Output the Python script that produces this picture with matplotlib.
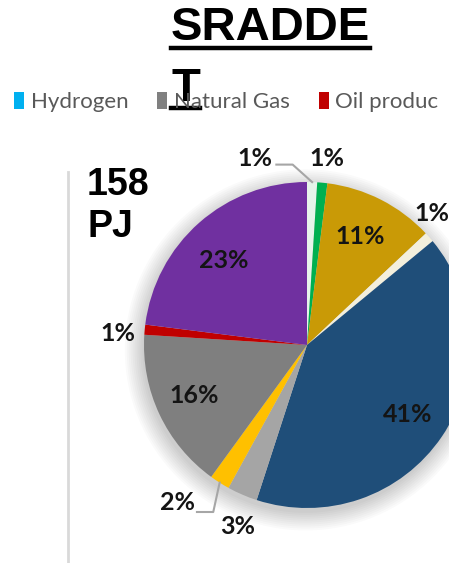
import numpy as np
import matplotlib.pyplot as plt
from matplotlib.patches import Patch, Circle

# pie slices, clockwise from 12 o'clock
shares = [1, 1, 11, 1, 41, 3, 2, 16, 1, 23]
labels = ['1%', '1%', '11%', '1%', '41%', '3%', '2%', '16%', '1%', '23%']
colors = ['#e6f4ea', '#00b050', '#c99a06', '#f3efdc', '#1f4e79',
          '#a5a5a5', '#ffc000', '#7f7f7f', '#c00000', '#7030a0']

legend_names = ['Hydrogen', 'Natural Gas', 'Oil produc']
legend_colors = ['#00b0f0', '#808080', '#c00000']

title_lines = ['SRADDE', 'T']
total_text = '158\nPJ'

# label placement (radius, angle in degrees) for each slice
label_pos = [(1.19, 105.5), (1.15, 84.0), (0.74, 64.0), (1.11, 46.5), (0.75, -34.5),
             (1.19, 249.0), (1.25, 230.5), (0.76, 204.0), (1.16, 176.5), (0.73, 134.5)]

W, H = 449, 563
fig = plt.figure(figsize=(W / 100, H / 100), dpi=100)

def fx(x):
    return x / W

def fy(y):
    return 1 - y / H

# pie axes: centre (307, 345) px, radius 163 px
cx, cy, r = 307, 345, 163
ax = fig.add_axes([fx(cx - r), fy(cy + r), 2 * r / W, 2 * r / H])

# soft shadow around the pie
for i in range(10):
    ax.add_patch(Circle((-0.01, -0.03), 1 + 0.012 * i, color='k', alpha=0.018,
                        lw=0, zorder=0, clip_on=False))

wedges, _ = ax.pie(shares, colors=colors, startangle=90, counterclock=False,
                   radius=1, wedgeprops=dict(linewidth=0))
for w in wedges:
    w.set_clip_on(False)
ax.set_xlim(-1, 1)
ax.set_ylim(-1, 1)
ax.set_aspect('equal')
ax.axis('off')

for lab, (rr, ang) in zip(labels, label_pos):
    a = np.deg2rad(ang)
    ax.text(rr * np.cos(a), rr * np.sin(a), lab, ha='center', va='center',
            fontsize=18, fontweight='bold', color='#141414', family='Lato',
            clip_on=False)

# leader lines for the two tiny slices
def leader(idx, ex, ey):
    w = wedges[idx]
    mid = np.deg2rad((w.theta1 + w.theta2) / 2)
    x0, y0 = np.cos(mid), np.sin(mid)
    ax.plot([x0, ex, ex + (-0.1 if ex < x0 else 0.1)], [y0, ey, ey],
            color='#a6a6a6', lw=1.5, clip_on=False)

a0 = np.deg2rad(label_pos[0][1])
leader(0, label_pos[0][0] * np.cos(a0) + 0.23, label_pos[0][0] * np.sin(a0) - 0.04)
a6 = np.deg2rad(label_pos[6][1])
leader(6, label_pos[6][0] * np.cos(a6) + 0.22, label_pos[6][0] * np.sin(a6) - 0.06)

# vertical separator on the left
fig.add_artist(plt.Line2D([fx(68), fx(68)], [fy(172), 0], color='#d9d9d9', lw=2))

fig.text(fx(87), fy(167), total_text, ha='left', va='top', fontsize=27,
         fontweight='bold', family='Liberation Sans', linespacing=1.2)

# title with underline
t1 = fig.text(fx(171), fy(40), title_lines[0], ha='left', va='baseline', fontsize=34,
              fontweight='bold', family='Liberation Sans')
t2 = fig.text(fx(171), fy(101), title_lines[1], ha='left', va='baseline', fontsize=34,
              fontweight='bold', family='Liberation Sans')
fig.canvas.draw()
rend = fig.canvas.get_renderer()
for t, yline in [(t1, 48), (t2, 108)]:
    bb = t.get_window_extent(rend)
    fig.add_artist(plt.Line2D([bb.x0 / W, bb.x1 / W], [fy(yline), fy(yline)],
                              color='black', lw=3.2))

handles = [Patch(facecolor=c, edgecolor='none') for c in legend_colors]
fig.legend(handles, legend_names, loc='center left', bbox_to_anchor=(fx(14), fy(102)),
           ncol=3, frameon=False, handlelength=0.45, handleheight=0.85,
           handletextpad=0.3, columnspacing=1.3, borderaxespad=0, borderpad=0,
           prop={'family': 'Lato', 'size': 16}, labelcolor='#595959')

fig.savefig('out.png', dpi=100)
